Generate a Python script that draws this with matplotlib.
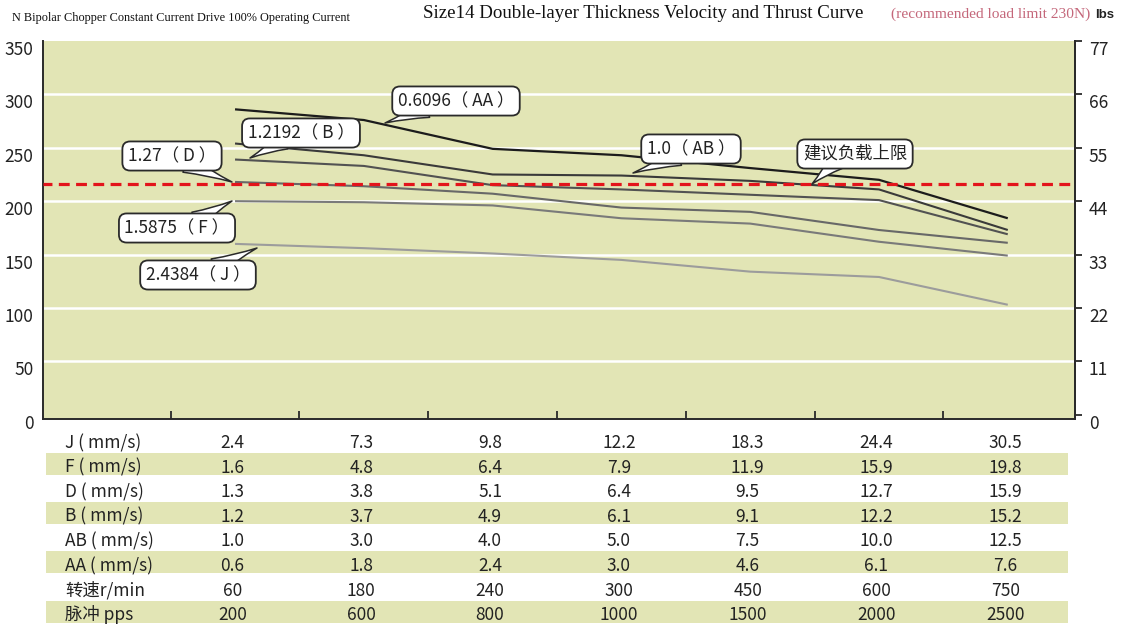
import numpy as np
import matplotlib
matplotlib.use('Agg')
import matplotlib.pyplot as plt
from matplotlib.transforms import ScaledTranslation

plt.rcParams['font.family'] = ['Noto Sans CJK SC', 'DejaVu Sans']

# ---------------- data ----------------
col_idx = list(range(7))
thrust_AA = [286, 276, 249, 243, 231, 220, 184]
thrust_AB = [254, 243, 225, 224, 219, 211, 173]
thrust_B = [239, 233, 215, 211, 206, 201, 169]
thrust_D = [218, 214, 207, 194, 190, 173, 161]
thrust_F = [200, 199, 196, 184, 179, 162, 149]
thrust_J = [160, 156, 151, 145, 134, 129, 103]
load_limit = 216

left_ticks = [0, 50, 100, 150, 200, 250, 300, 350]
right_ticks = [0, 11, 22, 33, 44, 55, 66, 77]

callout_AA = '0.6096（ AA ）'
callout_AB = '1.0（ AB ）'
callout_B = '1.2192（ B ）'
callout_D = '1.27（ D ）'
callout_F = '1.5875（ F ）'
callout_J = '2.4384（ J ）'
callout_limit = '建议负载上限'

row_labels = ['J ( mm/s)', 'F ( mm/s)', 'D ( mm/s)', 'B ( mm/s)',
              'AB ( mm/s)', 'AA ( mm/s)', '转速r/min', '脉冲 pps']
speed_J = [2.4, 7.3, 9.8, 12.2, 18.3, 24.4, 30.5]
speed_F = [1.6, 4.8, 6.4, 7.9, 11.9, 15.9, 19.8]
speed_D = [1.3, 3.8, 5.1, 6.4, 9.5, 12.7, 15.9]
speed_B = [1.2, 3.7, 4.9, 6.1, 9.1, 12.2, 15.2]
speed_AB = [1.0, 3.0, 4.0, 5.0, 7.5, 10.0, 12.5]
speed_AA = [0.6, 1.8, 2.4, 3.0, 4.6, 6.1, 7.6]
rpm = [60, 180, 240, 300, 450, 600, 750]
pps = [200, 600, 800, 1000, 1500, 2000, 2500]

# ---------------- layout ----------------
W, H = 1125, 628
fig = plt.figure(figsize=(W / 100, H / 100), dpi=100)
fig.patch.set_facecolor('white')

ax_l, ax_r, ax_t, ax_b = 43, 1075, 41, 419
ax = fig.add_axes([ax_l / W, (H - ax_b) / H, (ax_r - ax_l) / W, (ax_b - ax_t) / H])
bg = '#e2e5b5'
ax.set_facecolor(bg)
XLIM = (-1.491, 6.522)
ax.set_xlim(*XLIM)
ax.set_ylim(-4, 350)

for v in left_ticks[1:-1]:
    ax.axhline(v, color='white', lw=1.8, zorder=1)

line_specs = [
    (thrust_AA, '#1c1c1c', 1.6),
    (thrust_AB, '#3a3a3a', 1.5),
    (thrust_B, '#525252', 1.5),
    (thrust_D, '#686868', 1.5),
    (thrust_F, '#7a7a7a', 1.5),
    (thrust_J, '#9c9c9c', 1.5),
]
for vals, c, lw in line_specs:
    ax.plot(col_idx, vals, color=c, lw=lw, zorder=3, solid_capstyle='butt',
            solid_joinstyle='round')

ax.axhline(load_limit, color='#e3141b', lw=2.3, ls=(0.6, (3.4, 2.0)), zorder=4)

ax.spines['top'].set_visible(False)
for s in ['left', 'bottom', 'right']:
    ax.spines[s].set_color('#2a2a2a')
    ax.spines[s].set_linewidth(1.4)

ax.set_yticks(left_ticks)
ax.set_yticklabels([str(t) for t in left_ticks])
ax.tick_params(axis='y', length=0, pad=7, labelsize=12.5, labelcolor='#222')
ax.set_xticks([i - 0.5 for i in col_idx])
ax.set_xticklabels([])
ax.tick_params(axis='x', direction='in', length=6, width=1.3, color='#2a2a2a')

ax2 = ax.twinx()
ax2.set_ylim(-4 * 0.22, 77)
ax2.set_yticks(right_ticks)
ax2.set_yticklabels([str(t) for t in right_ticks])
ax2.tick_params(axis='y', direction='out', length=5, width=1.3, pad=5,
                labelsize=12.5, labelcolor='#222', color='#2a2a2a')
for s in ['top', 'left', 'bottom']:
    ax2.spines[s].set_visible(False)
ax2.spines['right'].set_color('#2a2a2a')
ax2.spines['right'].set_linewidth(1.4)

off = ScaledTranslation(0, -7 / 100, fig.dpi_scale_trans)
for lab in ax.get_yticklabels() + ax2.get_yticklabels():
    lab.set_transform(lab.get_transform() + off)


def px2data(px, py):
    x = XLIM[0] + (px - ax_l) / (ax_r - ax_l) * (XLIM[1] - XLIM[0])
    y = -4 + (ax_b - py) / (ax_b - ax_t) * 354
    return x, y


def callout(text, box_px, tip_px, relpos):
    xt, yt = px2data(*box_px)
    xtip = px2data(*tip_px)
    ax.annotate(text, xy=xtip, xytext=(xt, yt), textcoords='data',
                ha='center', va='center', fontsize=12.5, color='#222',
                bbox=dict(boxstyle='round,pad=0.32,rounding_size=0.45',
                          fc='white', ec='#2a2a2a', lw=1.3),
                arrowprops=dict(arrowstyle='wedge,tail_width=1.0,shrink_factor=0.4',
                                fc='white', ec='#2a2a2a', lw=1.1, relpos=relpos,
                                patchA=None, shrinkA=0, shrinkB=0),
                zorder=6)


callout(callout_AA, (456, 101), (385, 123), (0.25, 0.05))
callout(callout_B, (301, 133), (250, 158), (0.34, 0.05))
callout(callout_D, (172, 156), (232, 182), (0.66, 0.05))
callout(callout_F, (177, 228), (232, 201), (0.68, 0.95))
callout(callout_J, (198, 275), (257, 248), (0.66, 0.95))
callout(callout_AB, (691, 149), (633, 173), (0.36, 0.05))
callout(callout_limit, (855, 154), (812, 184), (0.32, 0.05))

# ---------------- table ----------------
tb_top = 429
tax = fig.add_axes([ax_l / W, 0, (ax_r - ax_l) / W, (H - tb_top) / H])
row0, rowh = 441.5, 24.6
tax.set_xlim(*XLIM)
tax.set_ylim((H - row0) / rowh, (tb_top - row0) / rowh)
tax.axis('off')

band_x0 = (46 - ax_l) / (ax_r - ax_l)
band_x1 = (1068 - ax_l) / (ax_r - ax_l)
table_rows = [
    (row_labels[0], ['{:.1f}'.format(v) for v in speed_J]),
    (row_labels[1], ['{:.1f}'.format(v) for v in speed_F]),
    (row_labels[2], ['{:.1f}'.format(v) for v in speed_D]),
    (row_labels[3], ['{:.1f}'.format(v) for v in speed_B]),
    (row_labels[4], ['{:.1f}'.format(v) for v in speed_AB]),
    (row_labels[5], ['{:.1f}'.format(v) for v in speed_AA]),
    (row_labels[6], [str(v) for v in rpm]),
    (row_labels[7], [str(v) for v in pps]),
]
label_x = XLIM[0] + (65 - ax_l) / (ax_r - ax_l) * (XLIM[1] - XLIM[0])
for k, (lab, vals) in enumerate(table_rows):
    if k % 2 == 1:
        tax.axhspan(k - 0.53, k + 0.36, xmin=band_x0, xmax=band_x1,
                    color=bg, lw=0, zorder=0)
    yb = k + 6.6 / rowh
    tax.text(label_x, yb, lab, ha='left', va='baseline', fontsize=12.5, color='#222')
    for i, s in zip(col_idx, vals):
        tax.text(i - 0.02, yb, s, ha='center', va='baseline', fontsize=12.5, color='#222')

# ---------------- titles ----------------
fig.text(12 / W, 1 - 18 / H, 'N Bipolar Chopper Constant Current Drive 100% Operating Current',
         family='Liberation Serif', fontsize=8.8, color='#111', va='center', ha='left')
fig.text(643 / W, 1 - 13 / H, 'Size14 Double-layer Thickness Velocity and Thrust Curve',
         family='Liberation Serif', fontsize=13.6, color='#111', va='center', ha='center')
fig.text(891 / W, 1 - 14 / H, '(recommended load limit 230N)',
         family='Liberation Serif', fontsize=11.1, color='#c4677a', va='center', ha='left')
fig.text(1095 / W, 1 - 15 / H, 'lbs', family='Liberation Sans', fontweight='bold',
         fontsize=9.5, color='#222', va='center', ha='left')

fig.savefig('out.png', dpi=100, facecolor='white')
